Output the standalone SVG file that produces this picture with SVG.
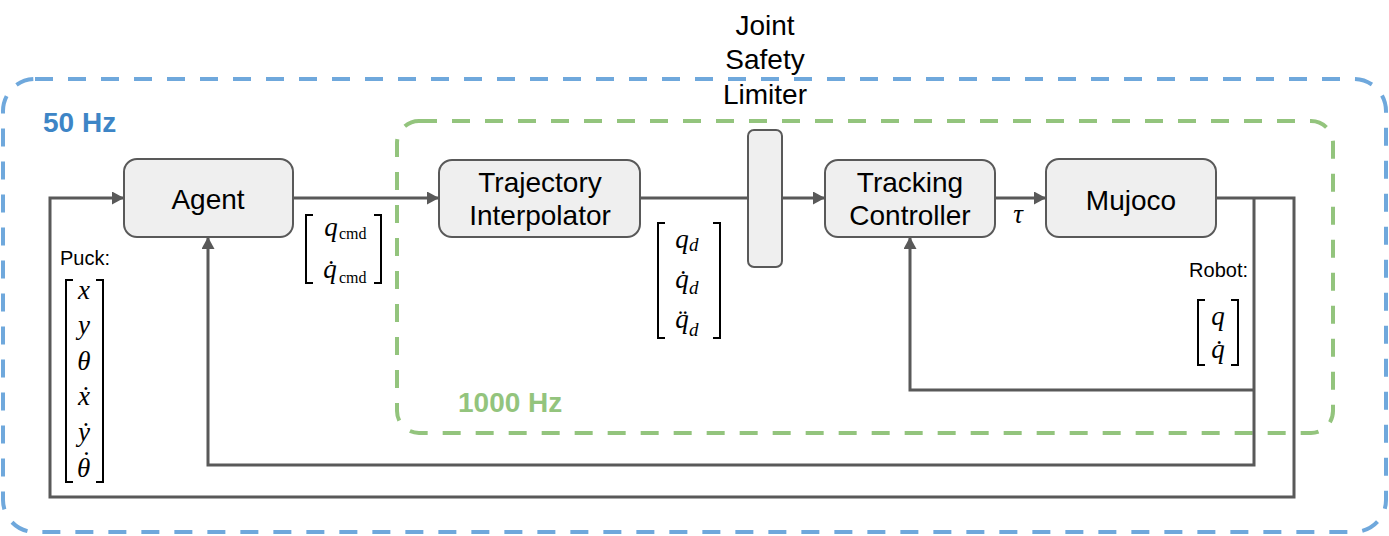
<svg xmlns="http://www.w3.org/2000/svg" width="1389" height="536" viewBox="0 0 1389 536">
<style>
.box{fill:#efefef;stroke:#595959;stroke-width:2}
.lbl{font-family:"Liberation Sans",Arial,sans-serif;font-size:28px;fill:#000;text-anchor:middle}
.sm{font-family:"Liberation Sans",Arial,sans-serif;font-size:20px;fill:#000}
.m{font-family:"Liberation Serif","Times New Roman",serif;font-style:italic;font-size:27px;fill:#000;text-anchor:middle}
.ms{font-family:"Liberation Serif","Times New Roman",serif;font-style:italic;font-size:27px;fill:#000;text-anchor:start}
.sub{font-family:"Liberation Serif","Times New Roman",serif;font-size:16px;fill:#000}
.subi{font-family:"Liberation Serif","Times New Roman",serif;font-style:italic;font-size:19px;fill:#000}
.br{fill:none;stroke:#000;stroke-width:2}
.wire{fill:none;stroke:#595959;stroke-width:3}
.hz{font-family:"Liberation Sans",Arial,sans-serif;font-weight:bold;font-size:28px}
</style>
<defs>
<marker id="ah" markerUnits="userSpaceOnUse" markerWidth="13" markerHeight="14" refX="12" refY="6.5" orient="auto">
<path d="M0,0 L12,6.5 L0,13 z" fill="#595959"/>
</marker>
</defs>
<g id="region-50hz">
<rect x="3" y="79" width="1383" height="453" rx="32" fill="none" stroke="#6fa8dc" stroke-width="4" stroke-dasharray="18,15"/>
<text class="hz" x="43" y="132" fill="#3d85c6">50 Hz</text>
</g>
<g id="region-1000hz">
<rect x="397" y="121" width="936" height="312" rx="22" fill="none" stroke="#93c47d" stroke-width="4" stroke-dasharray="18,15"/>
<text class="hz" x="458" y="412" fill="#93c47d">1000 Hz</text>
</g>
<g id="connectors">
<path class="wire" d="M293,198 H439" marker-end="url(#ah)"/>
<path class="wire" d="M640,198 H748"/>
<path class="wire" d="M782,198 H825" marker-end="url(#ah)"/>
<path class="wire" d="M995,198 H1046" marker-end="url(#ah)"/>
<path class="wire" d="M1216,198 H1294 V497 H50 V198 H124" marker-end="url(#ah)"/>
<path class="wire" d="M1254,198 V465 H208 V237" marker-end="url(#ah)"/>
<path class="wire" d="M1254,390 H910 V237" marker-end="url(#ah)"/>
</g>
<g id="agent">
<rect class="box" x="124" y="159" width="169" height="78" rx="13"/>
<text class="lbl" x="208" y="209">Agent</text>
</g>
<g id="trajectory-interpolator">
<rect class="box" x="439" y="160" width="201" height="77" rx="13"/>
<text class="lbl" x="540" y="192">Trajectory</text>
<text class="lbl" x="540" y="225">Interpolator</text>
</g>
<g id="joint-safety-limiter">
<rect class="box" x="748" y="130" width="34" height="137" rx="6"/>
<text class="lbl" x="765" y="35">Joint</text>
<text class="lbl" x="765" y="69">Safety</text>
<text class="lbl" x="765" y="104">Limiter</text>
</g>
<g id="tracking-controller">
<rect class="box" x="825" y="160" width="170" height="77" rx="13"/>
<text class="lbl" x="910" y="192">Tracking</text>
<text class="lbl" x="910" y="225">Controller</text>
</g>
<g id="mujoco">
<rect class="box" x="1046" y="159" width="170" height="78" rx="13"/>
<text class="lbl" x="1131" y="210">Mujoco</text>
</g>
<g id="label-qcmd">
<path class="br" d="M313,215 H306 V283 H313 M374,215 H381 V283 H374"/>
<text class="m" x="331" y="236">q</text><text class="sub" x="339" y="239">cmd</text>
<text class="m" x="330" y="278">q̇</text><text class="sub" x="339" y="283">cmd</text>
</g>
<g id="label-qd">
<path class="br" d="M665,223 H658 V338 H665 M713,223 H720 V338 H713"/>
<text class="m" x="682" y="248">q</text><text class="subi" x="689" y="251">d</text>
<text class="m" x="682" y="288">q̇</text><text class="subi" x="689" y="294">d</text>
<text class="m" x="682" y="328">q̈</text><text class="subi" x="689" y="336">d</text>
</g>
<g id="label-tau">
<text class="m" x="1018" y="223">τ</text>
</g>
<g id="label-robot">
<text class="sm" x="1248" y="277" text-anchor="end">Robot:</text>
<path class="br" d="M1205,300 H1198 V365 H1205 M1231,300 H1238 V365 H1231"/>
<text class="m" x="1218" y="325">q</text>
<text class="m" x="1218" y="358">q̇</text>
</g>
<g id="label-puck">
<text class="sm" x="60" y="265">Puck:</text>
<path class="br" d="M73,280 H66 V482 H73 M96,280 H103 V482 H96"/>
<text class="m" x="84" y="299">x</text>
<text class="m" x="84" y="334">y</text>
<text class="m" x="84" y="370">θ</text>
<text class="m" x="84" y="405">ẋ</text>
<text class="m" x="84" y="441">ẏ</text>
<text class="ms" x="77" y="477">θ<tspan dx="-7" dy="-12" font-size="19" font-style="normal" font-weight="bold">˙</tspan></text>
</g>
</svg>
